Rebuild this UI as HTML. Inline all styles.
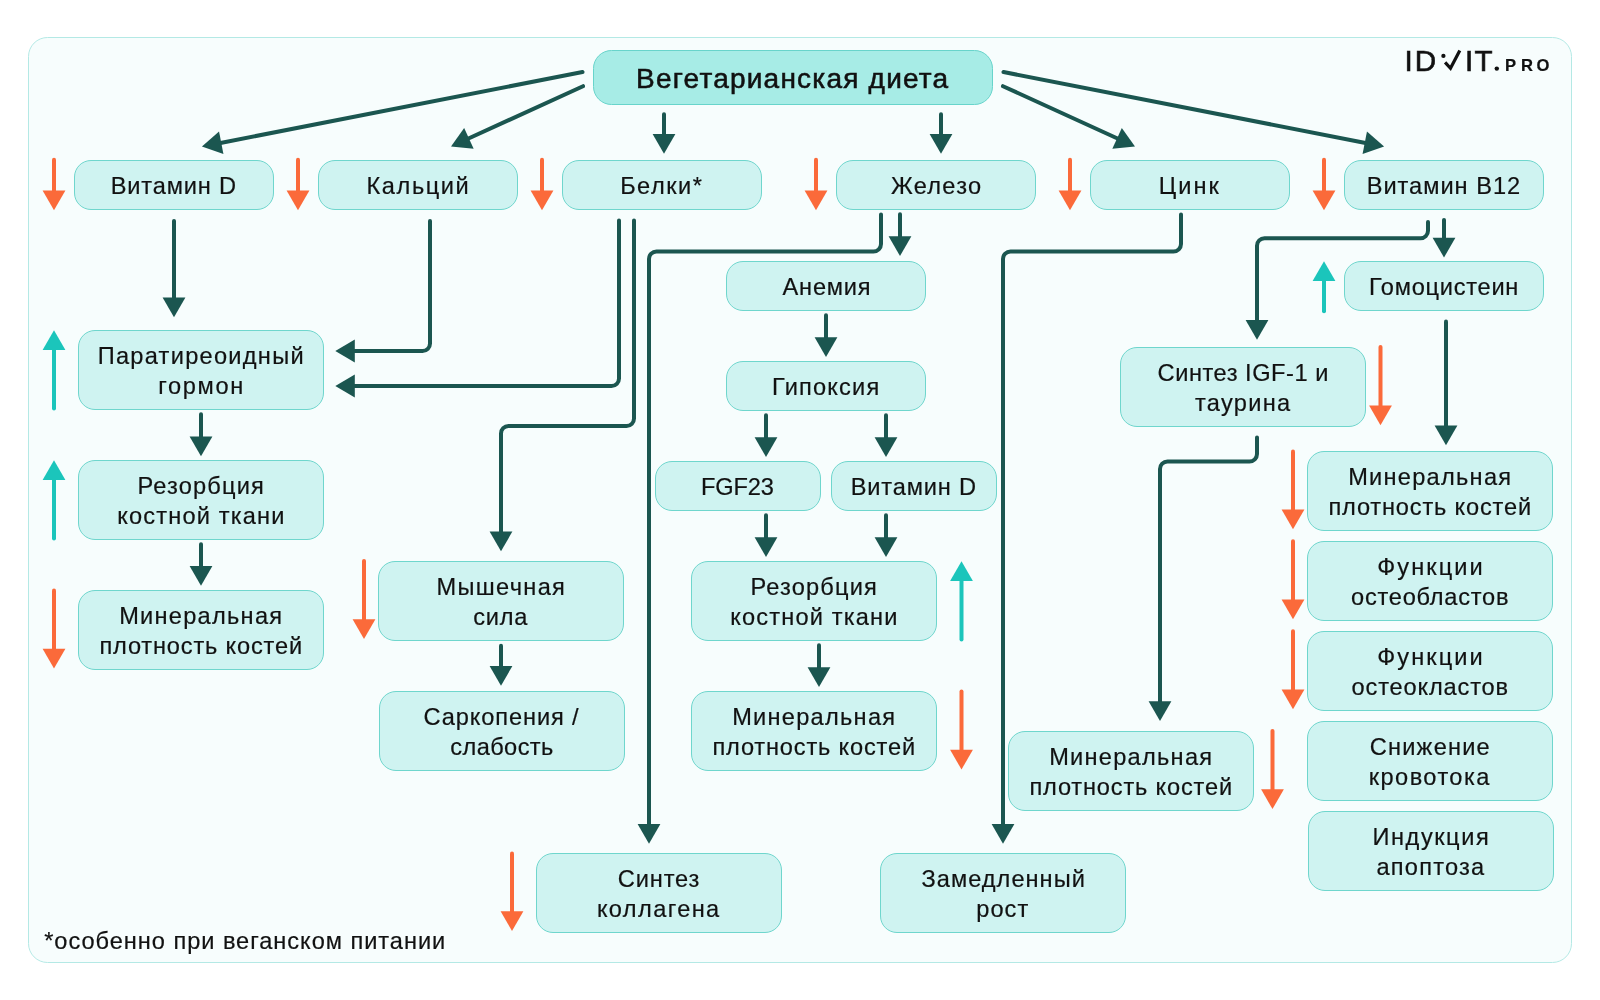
<!DOCTYPE html>
<html lang="ru"><head><meta charset="utf-8"><title>Вегетарианская диета</title>
<style>html,body{margin:0;padding:0;background:#fff}body{width:1600px;height:1000px;overflow:hidden}svg{display:block}text{font-family:"Liberation Sans",sans-serif;fill:#111111;stroke:#111111;stroke-width:0.2px}.t{font-size:23.6px;letter-spacing:0.55px;text-anchor:middle}</style></head><body>
<svg width="1600" height="1000" viewBox="0 0 1600 1000" style="will-change:transform">
<rect x="28.5" y="37.5" width="1543" height="925" rx="19" ry="19" fill="#f7fdfd" stroke="#b4e9e5" stroke-width="1"/>
<path d="M582.5 72L216.62 143.71" stroke="#1b5650" stroke-width="4" stroke-linecap="round" stroke-linejoin="round" fill="none"/>
<path d="M0 0L-19.7 -11.4V11.4Z" fill="#1b5650" transform="translate(201.9 146.6) rotate(168.91)"/>
<path d="M583 86.2L464.64 140.27" stroke="#1b5650" stroke-width="4" stroke-linecap="round" stroke-linejoin="round" fill="none"/>
<path d="M0 0L-19.7 -11.4V11.4Z" fill="#1b5650" transform="translate(451 146.5) rotate(155.45)"/>
<path d="M1003 86.2L1121.36 140.27" stroke="#1b5650" stroke-width="4" stroke-linecap="round" stroke-linejoin="round" fill="none"/>
<path d="M0 0L-19.7 -11.4V11.4Z" fill="#1b5650" transform="translate(1135 146.5) rotate(24.55)"/>
<path d="M1003.5 72L1369.38 143.71" stroke="#1b5650" stroke-width="4" stroke-linecap="round" stroke-linejoin="round" fill="none"/>
<path d="M0 0L-19.7 -11.4V11.4Z" fill="#1b5650" transform="translate(1384.1 146.6) rotate(11.09)"/>
<path d="M664 114.20V135.10" stroke="#1b5650" stroke-width="4" stroke-linecap="round" fill="none"/>
<path d="M652.6 134.10H675.4L664 153.80Z" fill="#1b5650"/>
<path d="M941 114.20V135.10" stroke="#1b5650" stroke-width="4" stroke-linecap="round" fill="none"/>
<path d="M929.6 134.10H952.4L941 153.80Z" fill="#1b5650"/>
<path d="M174 221.00V298.50" stroke="#1b5650" stroke-width="4" stroke-linecap="round" fill="none"/>
<path d="M162.6 297.50H185.4L174 317.20Z" fill="#1b5650"/>
<path d="M201 414.30V437.50" stroke="#1b5650" stroke-width="4" stroke-linecap="round" fill="none"/>
<path d="M189.6 436.50H212.4L201 456.20Z" fill="#1b5650"/>
<path d="M201 544.30V567.10" stroke="#1b5650" stroke-width="4" stroke-linecap="round" fill="none"/>
<path d="M189.6 566.10H212.4L201 585.80Z" fill="#1b5650"/>
<path d="M826 315.30V338.30" stroke="#1b5650" stroke-width="4" stroke-linecap="round" fill="none"/>
<path d="M814.6 337.30H837.4L826 357.00Z" fill="#1b5650"/>
<path d="M766 415.30V438.30" stroke="#1b5650" stroke-width="4" stroke-linecap="round" fill="none"/>
<path d="M754.6 437.30H777.4L766 457.00Z" fill="#1b5650"/>
<path d="M886 415.30V438.30" stroke="#1b5650" stroke-width="4" stroke-linecap="round" fill="none"/>
<path d="M874.6 437.30H897.4L886 457.00Z" fill="#1b5650"/>
<path d="M766 515.30V538.30" stroke="#1b5650" stroke-width="4" stroke-linecap="round" fill="none"/>
<path d="M754.6 537.30H777.4L766 557.00Z" fill="#1b5650"/>
<path d="M886 515.30V538.30" stroke="#1b5650" stroke-width="4" stroke-linecap="round" fill="none"/>
<path d="M874.6 537.30H897.4L886 557.00Z" fill="#1b5650"/>
<path d="M819 645.30V668.30" stroke="#1b5650" stroke-width="4" stroke-linecap="round" fill="none"/>
<path d="M807.6 667.30H830.4L819 687.00Z" fill="#1b5650"/>
<path d="M501 645.80V667.00" stroke="#1b5650" stroke-width="4" stroke-linecap="round" fill="none"/>
<path d="M489.6 666.00H512.4L501 685.70Z" fill="#1b5650"/>
<path d="M1444 220.00V238.80" stroke="#1b5650" stroke-width="4" stroke-linecap="round" fill="none"/>
<path d="M1432.6 237.80H1455.4L1444 257.50Z" fill="#1b5650"/>
<path d="M900 214.20V237.20" stroke="#1b5650" stroke-width="4" stroke-linecap="round" fill="none"/>
<path d="M888.6 236.20H911.4L900 255.90Z" fill="#1b5650"/>
<path d="M1446 321.50V426.50" stroke="#1b5650" stroke-width="4" stroke-linecap="round" fill="none"/>
<path d="M1434.6 425.50H1457.4L1446 445.20Z" fill="#1b5650"/>
<path d="M430 221L430.00 343.50A7.5 7.5 0 0 1 422.50 351.00L352 351" stroke="#1b5650" stroke-width="4" stroke-linecap="round" stroke-linejoin="round" fill="none"/>
<path d="M0 0L-19.5 -11.4V11.4Z" fill="#1b5650" transform="translate(335.3 351) rotate(180.00)"/>
<path d="M619 220.5L619.00 378.50A7.5 7.5 0 0 1 611.50 386.00L352 386" stroke="#1b5650" stroke-width="4" stroke-linecap="round" stroke-linejoin="round" fill="none"/>
<path d="M0 0L-19.5 -11.4V11.4Z" fill="#1b5650" transform="translate(335.3 386) rotate(180.00)"/>
<path d="M634 220.5L634.00 418.50A7.5 7.5 0 0 1 626.50 426.00L508.50 426.00A7.5 7.5 0 0 0 501.00 433.50L501 535" stroke="#1b5650" stroke-width="4" stroke-linecap="round" stroke-linejoin="round" fill="none"/>
<path d="M0 0L-19.7 -11.4V11.4Z" fill="#1b5650" transform="translate(501 551.2) rotate(90.00)"/>
<path d="M881 214.5L881.00 244.00A7.5 7.5 0 0 1 873.50 251.50L656.50 251.50A7.5 7.5 0 0 0 649.00 259.00L649 828" stroke="#1b5650" stroke-width="4" stroke-linecap="round" stroke-linejoin="round" fill="none"/>
<path d="M0 0L-19.7 -11.4V11.4Z" fill="#1b5650" transform="translate(649 843.8) rotate(90.00)"/>
<path d="M1181 214.5L1181.00 244.00A7.5 7.5 0 0 1 1173.50 251.50L1010.50 251.50A7.5 7.5 0 0 0 1003.00 259.00L1003 828" stroke="#1b5650" stroke-width="4" stroke-linecap="round" stroke-linejoin="round" fill="none"/>
<path d="M0 0L-19.7 -11.4V11.4Z" fill="#1b5650" transform="translate(1003 843.8) rotate(90.00)"/>
<path d="M1428 222L1428.00 230.75A7.5 7.5 0 0 1 1420.50 238.25L1264.50 238.25A7.5 7.5 0 0 0 1257.00 245.75L1257 324" stroke="#1b5650" stroke-width="4" stroke-linecap="round" stroke-linejoin="round" fill="none"/>
<path d="M0 0L-19.7 -11.4V11.4Z" fill="#1b5650" transform="translate(1257 339.8) rotate(90.00)"/>
<path d="M1257 437.5L1257.00 454.00A7.5 7.5 0 0 1 1249.50 461.50L1167.50 461.50A7.5 7.5 0 0 0 1160.00 469.00L1160 705" stroke="#1b5650" stroke-width="4" stroke-linecap="round" stroke-linejoin="round" fill="none"/>
<path d="M0 0L-19.7 -11.4V11.4Z" fill="#1b5650" transform="translate(1160 721) rotate(90.00)"/>
<rect x="593.50" y="50.50" width="399.00" height="54.00" rx="18" ry="18" fill="#a7ece6" stroke="#68d4cb" stroke-width="1"/>
<rect x="74.50" y="160.50" width="199.00" height="49.00" rx="16.5" ry="16.5" fill="#cff3f1" stroke="#6fd6cd" stroke-width="1"/>
<rect x="318.50" y="160.50" width="199.00" height="49.00" rx="16.5" ry="16.5" fill="#cff3f1" stroke="#6fd6cd" stroke-width="1"/>
<rect x="562.50" y="160.50" width="199.00" height="49.00" rx="16.5" ry="16.5" fill="#cff3f1" stroke="#6fd6cd" stroke-width="1"/>
<rect x="836.50" y="160.50" width="199.00" height="49.00" rx="16.5" ry="16.5" fill="#cff3f1" stroke="#6fd6cd" stroke-width="1"/>
<rect x="1090.50" y="160.50" width="199.00" height="49.00" rx="16.5" ry="16.5" fill="#cff3f1" stroke="#6fd6cd" stroke-width="1"/>
<rect x="1344.50" y="160.50" width="199.00" height="49.00" rx="16.5" ry="16.5" fill="#cff3f1" stroke="#6fd6cd" stroke-width="1"/>
<rect x="726.50" y="261.50" width="199.00" height="49.00" rx="16.5" ry="16.5" fill="#cff3f1" stroke="#6fd6cd" stroke-width="1"/>
<rect x="726.50" y="361.50" width="199.00" height="49.00" rx="16.5" ry="16.5" fill="#cff3f1" stroke="#6fd6cd" stroke-width="1"/>
<rect x="655.50" y="461.50" width="165.00" height="49.00" rx="16.5" ry="16.5" fill="#cff3f1" stroke="#6fd6cd" stroke-width="1"/>
<rect x="831.50" y="461.50" width="165.00" height="49.00" rx="16.5" ry="16.5" fill="#cff3f1" stroke="#6fd6cd" stroke-width="1"/>
<rect x="691.50" y="561.50" width="245.00" height="79.00" rx="16.5" ry="16.5" fill="#cff3f1" stroke="#6fd6cd" stroke-width="1"/>
<rect x="691.50" y="691.50" width="245.00" height="79.00" rx="16.5" ry="16.5" fill="#cff3f1" stroke="#6fd6cd" stroke-width="1"/>
<rect x="1344.50" y="261.50" width="199.00" height="49.00" rx="16.5" ry="16.5" fill="#cff3f1" stroke="#6fd6cd" stroke-width="1"/>
<rect x="1120.50" y="347.50" width="245.00" height="79.00" rx="16.5" ry="16.5" fill="#cff3f1" stroke="#6fd6cd" stroke-width="1"/>
<rect x="1307.50" y="451.50" width="245.00" height="79.00" rx="16.5" ry="16.5" fill="#cff3f1" stroke="#6fd6cd" stroke-width="1"/>
<rect x="1307.50" y="541.50" width="245.00" height="79.00" rx="16.5" ry="16.5" fill="#cff3f1" stroke="#6fd6cd" stroke-width="1"/>
<rect x="1307.50" y="631.50" width="245.00" height="79.00" rx="16.5" ry="16.5" fill="#cff3f1" stroke="#6fd6cd" stroke-width="1"/>
<rect x="1307.50" y="721.50" width="245.00" height="79.00" rx="16.5" ry="16.5" fill="#cff3f1" stroke="#6fd6cd" stroke-width="1"/>
<rect x="1308.50" y="811.50" width="245.00" height="79.00" rx="16.5" ry="16.5" fill="#cff3f1" stroke="#6fd6cd" stroke-width="1"/>
<rect x="1008.50" y="731.50" width="245.00" height="79.00" rx="16.5" ry="16.5" fill="#cff3f1" stroke="#6fd6cd" stroke-width="1"/>
<rect x="78.50" y="330.50" width="245.00" height="79.00" rx="16.5" ry="16.5" fill="#cff3f1" stroke="#6fd6cd" stroke-width="1"/>
<rect x="78.50" y="460.50" width="245.00" height="79.00" rx="16.5" ry="16.5" fill="#cff3f1" stroke="#6fd6cd" stroke-width="1"/>
<rect x="78.50" y="590.50" width="245.00" height="79.00" rx="16.5" ry="16.5" fill="#cff3f1" stroke="#6fd6cd" stroke-width="1"/>
<rect x="378.50" y="561.50" width="245.00" height="79.00" rx="16.5" ry="16.5" fill="#cff3f1" stroke="#6fd6cd" stroke-width="1"/>
<rect x="379.50" y="691.50" width="245.00" height="79.00" rx="16.5" ry="16.5" fill="#cff3f1" stroke="#6fd6cd" stroke-width="1"/>
<rect x="536.50" y="853.50" width="245.00" height="79.00" rx="16.5" ry="16.5" fill="#cff3f1" stroke="#6fd6cd" stroke-width="1"/>
<rect x="880.50" y="853.50" width="245.00" height="79.00" rx="16.5" ry="16.5" fill="#cff3f1" stroke="#6fd6cd" stroke-width="1"/>
<path d="M54 159.80V191.50" stroke="#fb6a3a" stroke-width="4" stroke-linecap="round" fill="none"/>
<path d="M42.6 190.50H65.4L54 210.20Z" fill="#fb6a3a"/>
<path d="M298 159.80V191.50" stroke="#fb6a3a" stroke-width="4" stroke-linecap="round" fill="none"/>
<path d="M286.6 190.50H309.4L298 210.20Z" fill="#fb6a3a"/>
<path d="M542 159.80V191.50" stroke="#fb6a3a" stroke-width="4" stroke-linecap="round" fill="none"/>
<path d="M530.6 190.50H553.4L542 210.20Z" fill="#fb6a3a"/>
<path d="M816 159.80V191.50" stroke="#fb6a3a" stroke-width="4" stroke-linecap="round" fill="none"/>
<path d="M804.6 190.50H827.4L816 210.20Z" fill="#fb6a3a"/>
<path d="M1070 159.80V191.50" stroke="#fb6a3a" stroke-width="4" stroke-linecap="round" fill="none"/>
<path d="M1058.6 190.50H1081.4L1070 210.20Z" fill="#fb6a3a"/>
<path d="M1324 159.80V191.50" stroke="#fb6a3a" stroke-width="4" stroke-linecap="round" fill="none"/>
<path d="M1312.6 190.50H1335.4L1324 210.20Z" fill="#fb6a3a"/>
<path d="M54 590.50V649.80" stroke="#fb6a3a" stroke-width="4" stroke-linecap="round" fill="none"/>
<path d="M42.6 648.80H65.4L54 668.50Z" fill="#fb6a3a"/>
<path d="M364 561.00V620.30" stroke="#fb6a3a" stroke-width="4" stroke-linecap="round" fill="none"/>
<path d="M352.6 619.30H375.4L364 639.00Z" fill="#fb6a3a"/>
<path d="M961.5 691.50V750.80" stroke="#fb6a3a" stroke-width="4" stroke-linecap="round" fill="none"/>
<path d="M950.1 749.80H972.9L961.5 769.50Z" fill="#fb6a3a"/>
<path d="M512 853.50V912.30" stroke="#fb6a3a" stroke-width="4" stroke-linecap="round" fill="none"/>
<path d="M500.6 911.30H523.4L512 931.00Z" fill="#fb6a3a"/>
<path d="M1380.5 347.00V406.60" stroke="#fb6a3a" stroke-width="4" stroke-linecap="round" fill="none"/>
<path d="M1369.1 405.60H1391.9L1380.5 425.30Z" fill="#fb6a3a"/>
<path d="M1293 451.50V510.60" stroke="#fb6a3a" stroke-width="4" stroke-linecap="round" fill="none"/>
<path d="M1281.6 509.60H1304.4L1293 529.30Z" fill="#fb6a3a"/>
<path d="M1293 541.30V600.60" stroke="#fb6a3a" stroke-width="4" stroke-linecap="round" fill="none"/>
<path d="M1281.6 599.60H1304.4L1293 619.30Z" fill="#fb6a3a"/>
<path d="M1293 631.30V690.60" stroke="#fb6a3a" stroke-width="4" stroke-linecap="round" fill="none"/>
<path d="M1281.6 689.60H1304.4L1293 709.30Z" fill="#fb6a3a"/>
<path d="M1272.5 731.00V790.30" stroke="#fb6a3a" stroke-width="4" stroke-linecap="round" fill="none"/>
<path d="M1261.1 789.30H1283.9L1272.5 809.00Z" fill="#fb6a3a"/>
<path d="M54 408.50V348.90" stroke="#1bc5bb" stroke-width="4" stroke-linecap="round" fill="none"/>
<path d="M42.6 349.90H65.4L54 330.20Z" fill="#1bc5bb"/>
<path d="M54 538.50V478.90" stroke="#1bc5bb" stroke-width="4" stroke-linecap="round" fill="none"/>
<path d="M42.6 479.90H65.4L54 460.20Z" fill="#1bc5bb"/>
<path d="M961.5 639.50V579.90" stroke="#1bc5bb" stroke-width="4" stroke-linecap="round" fill="none"/>
<path d="M950.1 580.90H972.9L961.5 561.20Z" fill="#1bc5bb"/>
<path d="M1324 311.30V279.90" stroke="#1bc5bb" stroke-width="4" stroke-linecap="round" fill="none"/>
<path d="M1312.6 280.90H1335.4L1324 261.20Z" fill="#1bc5bb"/>
<text x="636.06" y="88.00" font-size="28" letter-spacing="1.222" style="stroke-width:0.55px">Вегетарианская диета</text>
<text x="110.66" y="193.90" font-size="23.6" letter-spacing="0.857">Витамин D</text>
<text x="366.54" y="193.90" font-size="23.6" letter-spacing="1.571">Кальций</text>
<text x="620.16" y="193.90" font-size="23.6" letter-spacing="1.480">Белки*</text>
<text x="891.07" y="193.90" font-size="23.6" letter-spacing="1.230">Железо</text>
<text x="1158.79" y="193.90" font-size="23.6" letter-spacing="2.031">Цинк</text>
<text x="1366.66" y="193.90" font-size="23.6" letter-spacing="0.996">Витамин B12</text>
<text x="782.55" y="294.90" font-size="23.6" letter-spacing="0.804">Анемия</text>
<text x="772.04" y="394.90" font-size="23.6" letter-spacing="1.184">Гипоксия</text>
<text x="700.91" y="494.90" font-size="23.6" letter-spacing="-0.141">FGF23</text>
<text x="850.66" y="494.90" font-size="23.6" letter-spacing="0.857">Витамин D</text>
<text x="750.41" y="595.00" font-size="23.6" letter-spacing="1.171">Резорбция</text>
<text x="730.27" y="625.00" font-size="23.6" letter-spacing="1.159">костной ткани</text>
<text x="732.16" y="725.00" font-size="23.6" letter-spacing="1.271">Минеральная</text>
<text x="712.40" y="755.00" font-size="23.6" letter-spacing="0.839">плотность костей</text>
<text x="1368.91" y="294.90" font-size="23.6" letter-spacing="0.747">Гомоцистеин</text>
<text x="1157.62" y="381.00" font-size="23.6" letter-spacing="0.533">Синтез IGF-1 и</text>
<text x="1194.95" y="411.00" font-size="23.6" letter-spacing="1.319">таурина</text>
<text x="1348.16" y="485.00" font-size="23.6" letter-spacing="1.271">Минеральная</text>
<text x="1328.40" y="515.00" font-size="23.6" letter-spacing="0.839">плотность костей</text>
<text x="1377.25" y="575.00" font-size="23.6" letter-spacing="2.078">Функции</text>
<text x="1351.11" y="605.00" font-size="23.6" letter-spacing="0.759">остеобластов</text>
<text x="1377.25" y="665.00" font-size="23.6" letter-spacing="2.078">Функции</text>
<text x="1351.61" y="695.00" font-size="23.6" letter-spacing="0.840">остеокластов</text>
<text x="1369.72" y="755.00" font-size="23.6" letter-spacing="1.219">Снижение</text>
<text x="1368.77" y="785.00" font-size="23.6" letter-spacing="1.438">кровотока</text>
<text x="1372.51" y="845.00" font-size="23.6" letter-spacing="1.550">Индукция</text>
<text x="1376.56" y="875.00" font-size="23.6" letter-spacing="1.203">апоптоза</text>
<text x="1049.16" y="765.00" font-size="23.6" letter-spacing="1.271">Минеральная</text>
<text x="1029.40" y="795.00" font-size="23.6" letter-spacing="0.839">плотность костей</text>
<text x="97.66" y="364.00" font-size="23.6" letter-spacing="1.281">Паратиреоидный</text>
<text x="158.15" y="394.00" font-size="23.6" letter-spacing="1.697">гормон</text>
<text x="137.41" y="494.00" font-size="23.6" letter-spacing="1.171">Резорбция</text>
<text x="117.27" y="524.00" font-size="23.6" letter-spacing="1.159">костной ткани</text>
<text x="119.16" y="624.00" font-size="23.6" letter-spacing="1.271">Минеральная</text>
<text x="99.40" y="654.00" font-size="23.6" letter-spacing="0.839">плотность костей</text>
<text x="436.41" y="595.00" font-size="23.6" letter-spacing="1.337">Мышечная</text>
<text x="473.36" y="625.00" font-size="23.6" letter-spacing="0.714">сила</text>
<text x="423.62" y="725.00" font-size="23.6" letter-spacing="0.891">Саркопения /</text>
<text x="450.23" y="755.00" font-size="23.6" letter-spacing="0.422">слабость</text>
<text x="617.87" y="887.00" font-size="23.6" letter-spacing="0.867">Синтез</text>
<text x="596.89" y="917.00" font-size="23.6" letter-spacing="1.391">коллагена</text>
<text x="921.47" y="887.00" font-size="23.6" letter-spacing="1.031">Замедленный</text>
<text x="976.27" y="917.00" font-size="23.6" letter-spacing="1.051">рост</text>
<text x="44.15" y="948.80" font-size="23.6" letter-spacing="0.966">*особенно при веганском питании</text>
<text x="1404.54" y="70.8" font-size="29.6" style="stroke-width:0.65px">I</text>
<text x="1414.83" y="70.8" font-size="29.6" style="stroke-width:0.65px">D</text>
<text x="1464.94" y="70.8" font-size="29.6" style="stroke-width:0.65px">I</text>
<text x="1474.61" y="70.8" font-size="29.6" style="stroke-width:0.65px">T</text>
<circle cx="1443.4" cy="55.9" r="2.15" fill="#111111"/>
<circle cx="1496.8" cy="68.6" r="2.2" fill="#111111"/>
<path d="M1445.1 62.4L1450.5 68.3L1459.8 50.6" fill="none" stroke="#111111" stroke-width="3.2" stroke-linejoin="miter" stroke-linecap="butt"/>
<text x="1504.92" y="70.8" font-size="16.6" font-weight="bold">P</text>
<text x="1520.92" y="70.8" font-size="16.6" font-weight="bold">R</text>
<text x="1536.54" y="70.8" font-size="16.6" font-weight="bold">O</text>
</svg></body></html>
